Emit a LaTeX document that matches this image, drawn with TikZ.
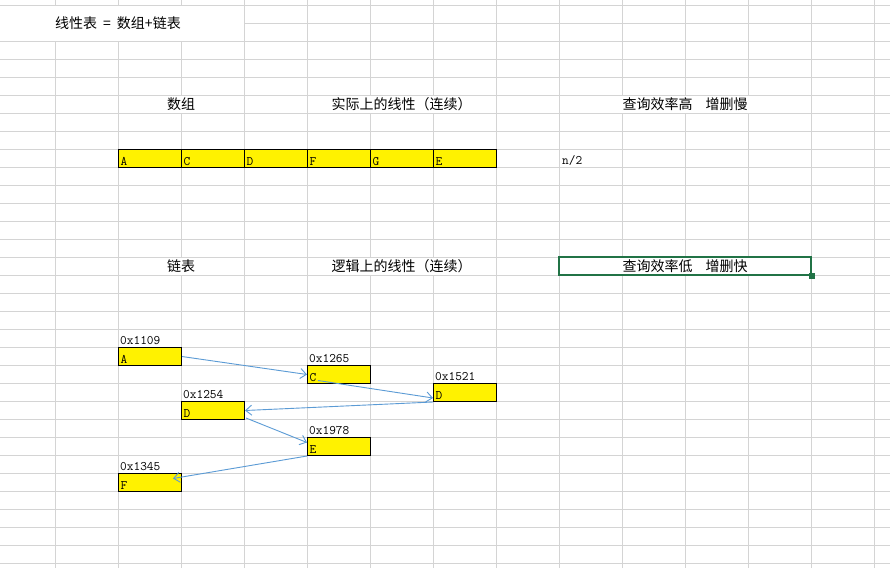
\documentclass[tikz,border=0pt]{standalone}
\usepackage{fontspec}
\newfontfamily\cjk{Noto Sans CJK SC}
\usepackage{xcolor}
\usetikzlibrary{arrows.meta}
\definecolor{gridgray}{RGB}{212,212,212}
\definecolor{linkblue}{RGB}{91,155,213}
\definecolor{selgreen}{RGB}{33,115,70}
\tikzset{
 gridline/.style={gridgray,line width=1pt},
 cellbox/.style={draw,line width=1pt,fill=yellow,anchor=north west,minimum width=63pt,minimum height=18pt,text width=59pt,inner xsep=2pt,inner ysep=2pt,align=left,text height=14pt,text depth=0pt,font=\fontsize{13}{13}\selectfont\ttfamily},
 addr/.style={anchor=base west,inner sep=0pt,font=\fontsize{13}{13}\selectfont\ttfamily},
 head/.style={fill=white,inner sep=0pt,minimum height=17pt,font=\fontsize{14}{14}\selectfont\cjk},
 link/.style={linkblue,line width=0.9pt,-{Straight Barb[length=6pt,width=10pt]}}
}
\begin{document}
\begin{tikzpicture}[x=1pt,y=-1pt]
\useasboundingbox (0,0) rectangle (890,568);
\fill[white] (0,0) rectangle (890,568);
\foreach \x in {55,118,...,874} \draw[gridline] (\x,0) -- (\x,568);
\foreach \y in {5,23,...,563} \draw[gridline] (0,\y) -- (890,\y);
\node[head,minimum width=251pt,minimum height=35pt] (title) at (118,23) {线性表\hspace{6pt}=\hspace{6pt}数组+链表};
\node[head,minimum width=125pt] (hArr) at (181,104) {数组};
\node[head,minimum width=188pt] (hArrLin) at (401.5,104) {实际上的线性（连续）};
\node[head,minimum width=251pt] (hArrEff) at (685,104) {查询效率高\hspace{13pt}增删慢};
\foreach \t [count=\i] in {A,C,D,F,G,E} \node[cellbox] (a\i) at ({55+63*\i},149) {\t};
\node[addr] (half) at (562,164) {n/2};
\node[head,minimum width=125pt] (hLst) at (181,266) {链表};
\node[head,minimum width=188pt] (hLstLin) at (401.5,266) {逻辑上的线性（连续）};
\node[head,draw=selgreen,line width=2pt,minimum width=252pt,minimum height=18pt] (hLstEff) at (685,266) {查询效率低\hspace{13pt}增删快};
\fill[selgreen] ([shift={(-3,-3)}]hLstEff.south east) rectangle ([shift={(3,3)}]hLstEff.south east);
\node[cellbox] (nA) at (118,347) {A};
\node[cellbox] (nC) at (307,365) {C};
\node[cellbox] (nD) at (433,383) {D};
\node[cellbox] (nDD) at (181,401) {D};
\node[cellbox] (nE) at (307,437) {E};
\node[cellbox] (nF) at (118,473) {F};
\node[addr] (adA) at ([shift={(2,-3)}]nA.north west) {0x1109};
\node[addr] (adC) at ([shift={(2,-3)}]nC.north west) {0x1265};
\node[addr] (adD) at ([shift={(2,-3)}]nD.north west) {0x1521};
\node[addr] (adDD) at ([shift={(2,-3)}]nDD.north west) {0x1254};
\node[addr] (adE) at ([shift={(2,-3)}]nE.north west) {0x1978};
\node[addr] (adF) at ([shift={(2,-3)}]nF.north west) {0x1345};
\draw[link] (nA.east) -- (nC.west);
\draw[link] ([shift={(11,6)}]nC.west) -- ([shift={(0,-4)}]nD.south west);
\draw[link] (nD.south west) -- (nDD.east);
\draw[link] ([shift={(1,-2)}]nDD.south east) -- ([shift={(0,-4)}]nE.west);
\draw[link] (nE.south west) -- ([shift={(-9,-4)}]nF.east);
\end{tikzpicture}
\end{document}
